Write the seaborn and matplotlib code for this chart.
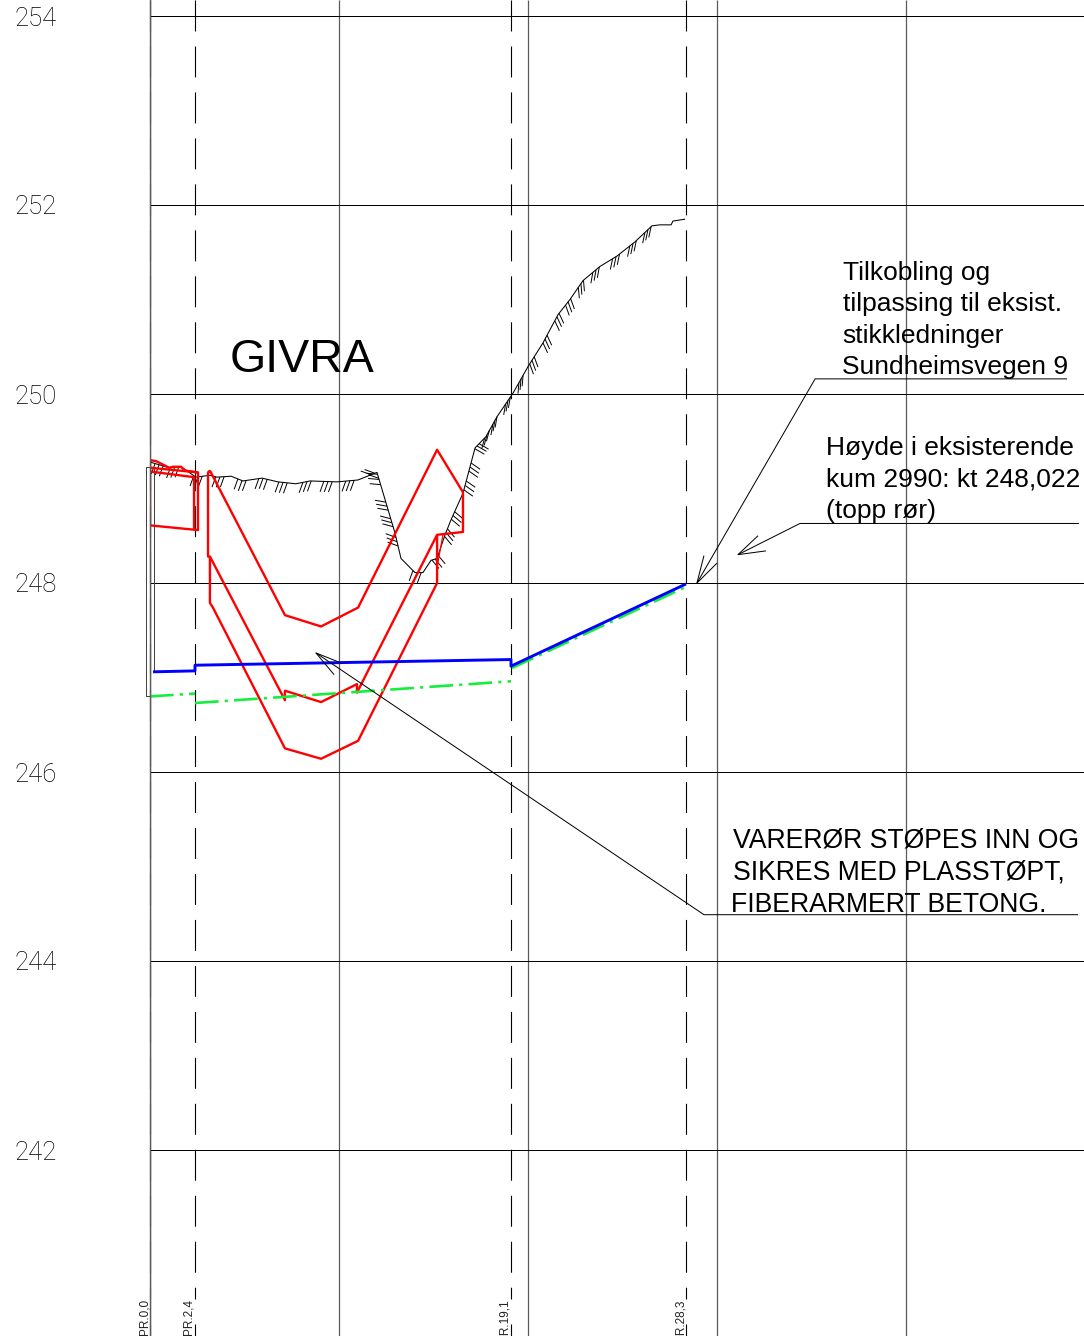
import matplotlib
matplotlib.use("Agg")
import matplotlib.pyplot as plt
import numpy as np
import pandas as pd
import seaborn as sns

# lengdeprofil: station (m) and elevation (kt)
elev_ticks = [242, 244, 246, 248, 250, 252, 254]
station_ticks = [0, 10, 20, 30, 40]

pr_stations = [0.0, 2.38, 19.1, 28.36]
pr_labels = ["PR.0,0", "PR.2,4", "PR.19,1", "PR.28,3"]

blue_x = [0.16, 2.38, 2.38, 19.1, 19.1, 28.36]
blue_y = [247.06, 247.07, 247.13, 247.19, 247.12, 247.99]

green_segments = [
    ([0.0, 2.38], [246.80, 246.83]),
    ([2.38, 19.1], [246.73, 246.96]),
    ([19.15, 28.36], [247.10, 247.96]),
]

red_upper_x = [3.17, 7.14, 9.05, 11.01, 15.19, 16.56, 16.56, 15.19, 10.95, 10.95, 9.05, 7.14, 7.14, 3.17, 3.07, 3.07, 3.17]
red_upper_y = [249.19, 247.66, 247.54, 247.74, 249.41, 248.96, 248.54, 248.51, 246.84, 246.93, 246.74, 246.86, 246.76, 248.28, 248.28, 249.17, 249.19]
red_lower_x = [3.17, 3.17, 3.33, 7.14, 9.05, 11.01, 15.19, 15.19]
red_lower_y = [248.28, 247.79, 247.74, 246.25, 246.14, 246.33, 248.0, 248.51]
red_short_x = [15.5, 15.19]
red_short_y = [248.51, 248.17]
red_box_x = [0, 0.32, 1.01, 1.22, 1.64, 1.85, 2.54, 2.54, 0, 0]
red_box_y = [249.30, 249.29, 249.22, 249.23, 249.23, 249.19, 249.17, 248.56, 248.61, 249.30]
red_box2_x = [0, 2.54]
red_box2_y = [249.22, 249.17]
red_box3_x = [0, 2.33, 2.33]
red_box3_y = [249.18, 249.12, 248.57]

terrain_x = [0, 1.01, 1.64, 2.43, 3.17, 3.54, 4.29, 4.92, 5.93, 6.77, 7.72, 8.47, 9.89, 11.0, 12.01,
             12.96, 13.28, 14.02, 14.44, 14.87, 15.19, 15.61, 15.93, 16.56, 17.2, 17.78, 18.36, 19.21,
             20.0, 20.79, 21.59, 22.22, 22.91, 23.81, 24.71, 25.66, 26.56, 26.98, 27.57, 27.67, 28.31]
terrain_y = [249.28, 249.22, 249.23, 249.12, 249.14, 249.12, 249.13, 249.08, 249.11, 249.07, 249.05, 249.08, 249.07, 249.09, 249.17,
             248.53, 248.26, 248.11, 248.11, 248.24, 248.26, 248.51, 248.67, 248.95, 249.43, 249.55, 249.76, 250.01,
             250.29, 250.54, 250.84, 251.0, 251.2, 251.35, 251.46, 251.61, 251.78, 251.79, 251.79, 251.83, 251.85]

# skraveringsgrupper langs terrenget
hatch_x = [0.48, 1.3, 2.54, 3.70, 4.87, 5.98, 7.04, 8.31, 9.42, 10.58, 11.9, 12.12, 12.54, 12.80, 13.07,
           14.13, 15.08, 15.66, 16.03, 16.67, 16.93, 17.30, 17.83, 18.25, 18.94, 19.63, 20.21, 20.90,
           21.53, 22.12, 22.80, 23.60, 24.66, 25.56, 26.35]
hatch_angle = [250, 250, 250, 250, 250, 250, 250, 250, 250, 250, 160, 175, 170, 165, 160,
               250, 310, 310, 320, 325, 325, 330, 255, 260, 260, 265, 290, 295,
               295, 290, 275, 260, 258, 258, 258]

leader_lines = [
    ([48.52, 35.19, 28.94], [250.16, 250.16, 248.0]),
    ([29.31, 28.94, 30.0], [248.29, 248.0, 248.21]),
    ([49.15, 34.39, 31.11], [248.63, 248.63, 248.30]),
    ([32.17, 31.11, 32.59], [248.50, 248.30, 248.34]),
    ([49.10, 29.31, 8.78], [244.49, 244.49, 247.26]),
    ([10.16, 8.78, 9.74], [247.15, 247.26, 247.03]),
]
kum_x = [0.21, 0.21, -0.21, -0.21, 0.0]
kum_y = [247.06, 249.23, 249.23, 246.80, 246.80]

notes = [
    ("Tilkobling og", 36.67, 251.21, 19), ("tilpassing til eksist.", 36.67, 250.88, 19),
    ("stikkledninger", 36.61, 250.54, 19), ("Sundheimsvegen 9", 36.61, 250.21, 19),
    ("Høyde i eksisterende", 35.77, 249.35, 19), ("kum 2990: kt 248,022", 35.77, 249.02, 19),
    ("(topp rør)", 35.77, 248.69, 19),
    ("VARERØR STØPES INN OG", 30.85, 245.20, 19.15), ("SIKRES MED PLASSTØPT,", 30.85, 244.86, 19.15),
    ("FIBERARMERT BETONG.", 30.74, 244.52, 19.15),
]

sns.set_theme(style="white")
plt.rcParams["font.family"] = ["Liberation Sans", "DejaVu Sans"]
plt.rcParams["lines.scale_dashes"] = False
plt.rcParams["lines.solid_capstyle"] = "butt"

W, H = 1084, 1336
fig = plt.figure(figsize=(W / 100, H / 100), dpi=100)
ax = fig.add_axes([150 / W, 0, 934 / W, 1])
px_x, px_y = 18.9, 94.5
ax.set_xlim(0, 934 / px_x)
ax.set_ylim(254 - 1320 / px_y, 254 + 16 / px_y)


def draw(xs, ys, color="black", lw=0.72, **kw):
    sns.lineplot(x=xs, y=ys, sort=False, estimator=None, errorbar=None, color=color,
                 linewidth=lw, ax=ax, legend=False, **kw)


# rutenett
ax.set_xticks(station_ticks)
ax.set_yticks(elev_ticks)
ax.grid(True, axis="x", color="#5a5a5a", linewidth=0.9)
ax.grid(True, axis="y", color="black", linewidth=0.72)
ax.set_axisbelow(True)
sns.despine(ax=ax, top=True, right=True, bottom=True, left=False)
ax.spines["left"].set_color("#5a5a5a")
ax.spines["left"].set_linewidth(1.0)
ax.set_xticklabels([])
ax.tick_params(axis="both", length=0)
ax.tick_params(axis="y", pad=67, labelsize=18.5, labelcolor="#000000")
for lab in ax.get_yticklabels():
    lab.set_family(["Roboto", "Liberation Sans"])
    lab.set_fontweight("light")

# stasjonslinjer, stiplet ovenfra
for st, lab in zip(pr_stations, pr_labels):
    draw([st, st], [254.17, 240.42], lw=0.8, linestyle=(0, (22.3, 10.8)), clip_on=False)
    draw([st, st], [240.16, 240.03], lw=0.8, clip_on=False)
    ax.text(st - 6 / px_x, 240.42, lab, rotation=90, fontsize=8.5, ha="center", va="top",
            color="#222222", clip_on=False)

draw(kum_x, kum_y, color="#444444", lw=0.72, clip_on=False)

# terreng
draw(terrain_x, terrain_y, lw=0.75)
t_x = np.array(terrain_x)
t_y = np.array(terrain_y)
rows = []
n = 0
for hx, ang in zip(hatch_x, hatch_angle):
    yl = np.interp(hx - 0.2, t_x, t_y)
    yr = np.interp(hx + 0.2, t_x, t_y)
    tx, ty = 0.4 * px_x, (yr - yl) * px_y
    step = 4.2 / np.hypot(tx, ty) * tx / px_x
    for k in (-1, 0, 1):
        x0 = hx + k * step
        y0 = np.interp(x0, t_x, t_y)
        x1 = x0 + 11 * np.cos(np.radians(ang)) / px_x
        y1 = y0 + 11 * np.sin(np.radians(ang)) / px_y
        rows.append((n, x0, y0))
        rows.append((n, x1, y1))
        n += 1
hatch_df = pd.DataFrame(rows, columns=["stroke", "x", "y"])
sns.lineplot(data=hatch_df, x="x", y="y", units="stroke", estimator=None, sort=False,
             color="black", linewidth=0.7, ax=ax, legend=False)

# rødt
for xs, ys in [(red_upper_x, red_upper_y), (red_lower_x, red_lower_y), (red_box_x, red_box_y),
               (red_box2_x, red_box2_y), (red_box3_x, red_box3_y)]:
    draw(xs, ys, color="#ff0000", lw=1.7)
draw(red_short_x, red_short_y, color="#ff0000", lw=0.9)

# grønn og blå rørlinje
for xs, ys in green_segments:
    draw(xs, ys, color="#14ee3c", lw=1.9, linestyle=(0, (17, 4.5, 2.2, 4.5)))
draw(blue_x, blue_y, color="#0000ff", lw=2.1)

for xs, ys in leader_lines:
    draw(xs, ys, lw=0.72)

ax.text(4.23, 250.23, "GIVRA", fontsize=33.5, va="baseline", ha="left", color="black")
for txt, nx, ny, fs in notes:
    ax.text(nx, ny, txt, fontsize=fs, va="baseline", ha="left", color="black")

ax.set_xlabel("")
ax.set_ylabel("")
fig.savefig("out.png", dpi=100)
